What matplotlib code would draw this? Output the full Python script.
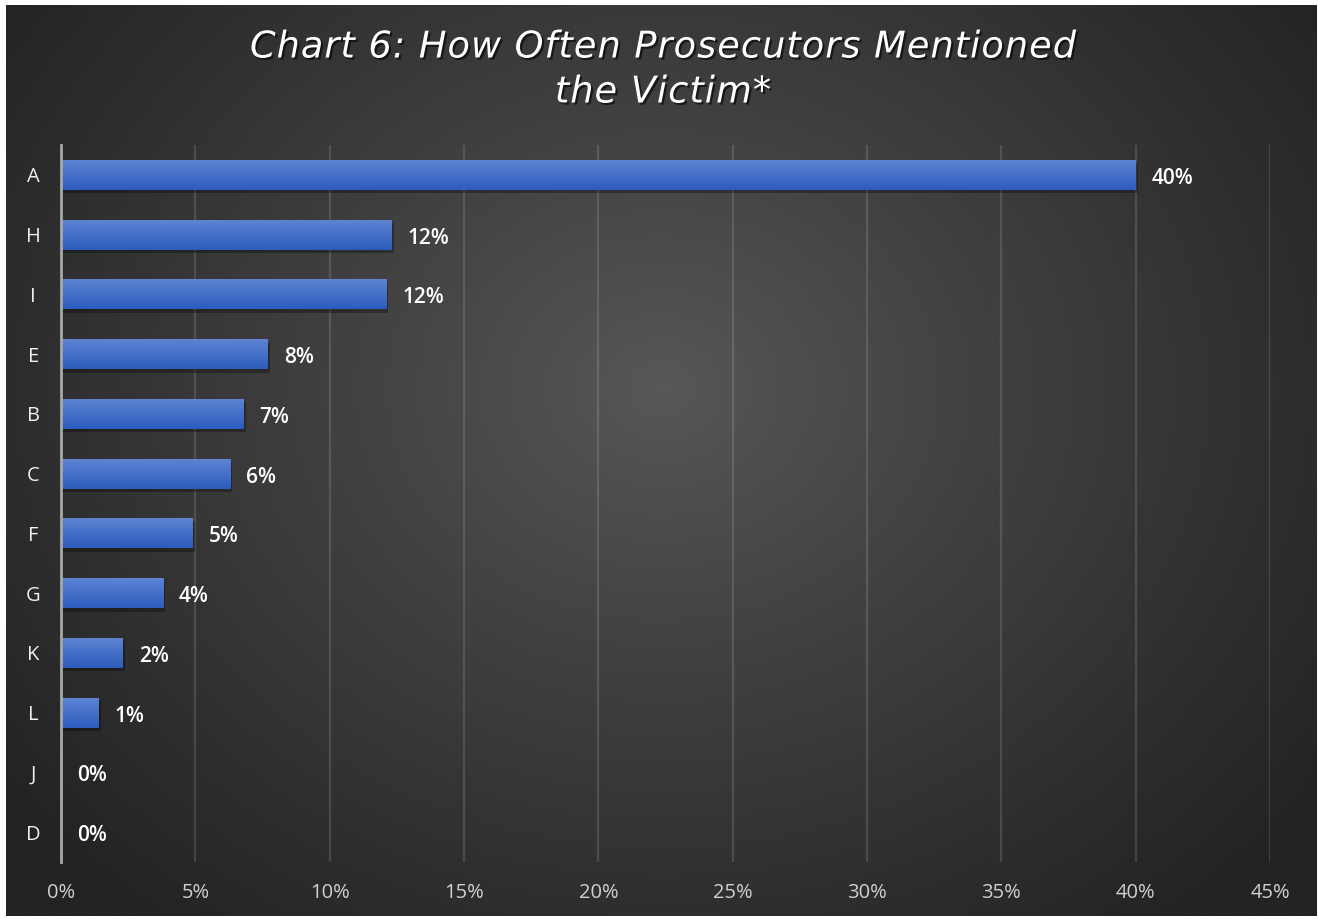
import numpy as np
import matplotlib
matplotlib.use("Agg")
import matplotlib.pyplot as plt
import matplotlib.patheffects as pe
from matplotlib.font_manager import FontProperties

categories = ["A", "H", "I", "E", "B", "C", "F", "G", "K", "L", "J", "D"]
values = [40.0, 12.3, 12.1, 7.7, 6.8, 6.3, 4.9, 3.8, 2.3, 1.4, 0.0, 0.0]
labels = ["40%", "12%", "12%", "8%", "7%", "6%", "5%", "4%", "2%", "1%", "0%", "0%"]
xticks = [0, 5, 10, 15, 20, 25, 30, 35, 40, 45]
xtick_labels = [f"{t}%" for t in xticks]
title_lines = ["Chart 6: How Often Prosecutors Mentioned", "the Victim*"]

plt.rcParams['font.family'] = ['Open Sans', 'DejaVu Sans']

W, H = 1318, 919
fig = plt.figure(figsize=(W / 100, H / 100), dpi=100, facecolor="white")

# background radial gradient
bg = fig.add_axes([6 / W, 3 / H, (1317 - 6) / W, (914 - 3) / H])
bg.set_axis_off()
ny, nx = 400, 600
yy, xx = np.mgrid[0:ny, 0:nx]
cx, cy = nx * 0.50, ny * 0.42
r = np.sqrt(((xx - cx) / (nx * 0.62)) ** 2 + ((yy - cy) / (ny * 0.75)) ** 2)
r = np.clip(r, 0, 1)
c0 = np.array([0x58, 0x58, 0x58]) / 255
c1 = np.array([0x23, 0x23, 0x23]) / 255
t = r ** 0.9
img = c0[None, None, :] * (1 - t[..., None]) + c1[None, None, :] * t[..., None]
bg.imshow(img, aspect="auto", extent=[0, 1, 0, 1], interpolation="bilinear")
bg.set_xlim(0, 1)
bg.set_ylim(0, 1)

ax = fig.add_axes([61 / W, 1 - 862 / H, (1270 - 61) / W, (862 - 145) / H])
ax.patch.set_alpha(0)
ypos = np.arange(len(categories))
bars = ax.barh(ypos, values, height=0.5, color="#4470c8", zorder=3,
               path_effects=[pe.SimplePatchShadow(offset=(1.5, -2.5), shadow_rgbFace="black", alpha=0.3),
                             pe.Normal()])
# gradient overlay on bars
grad = np.linspace(0, 1, 64)[:, None]
top = np.array([0x5e, 0x84, 0xd2]) / 255
bot = np.array([0x2c, 0x5c, 0xbd]) / 255
gimg = top[None, None, :] * (1 - grad[..., None]) + bot[None, None, :] * grad[..., None]
gimg = np.repeat(gimg, 2, axis=1)
for b, v, y in zip(bars, values, ypos):
    if v <= 0:
        continue
    im = ax.imshow(gimg, aspect="auto", extent=[0, v, y + 0.25, y - 0.25],
                   zorder=4, interpolation="bilinear")
    im.set_clip_path(b)

for v, y, lab in zip(values, ypos, labels):
    ax.annotate(lab, (v, y), xytext=(11.5, -2.5), textcoords="offset points",
                va="center", ha="left", color="white", fontsize=15,
                fontweight="semibold", zorder=5)

ax.set_xlim(0, 45)
ax.set_ylim(len(categories) - 0.5, -0.5)
ax.set_xticks(xticks)
ax.set_xticklabels(xtick_labels)
ax.set_yticks(ypos)
ax.set_yticklabels(categories)
ax.tick_params(axis="x", length=0, pad=15, labelsize=14.5, labelcolor="#d0d0d0")
ax.tick_params(axis="y", length=0, pad=20, labelsize=14.5, labelcolor="#f0f0f0")
for lbl in ax.get_yticklabels():
    lbl.set_horizontalalignment("center")
ax.grid(axis="x", color="white", alpha=0.13, linewidth=1.6, zorder=0)
ax.set_axisbelow(True)
for s in ["top", "right", "bottom"]:
    ax.spines[s].set_visible(False)
ax.spines["left"].set_color("#a8a8a8")
ax.spines["left"].set_linewidth(2)
ax.spines["left"].set_zorder(6)

# letter-spaced italic title
renderer = fig.canvas.get_renderer()
fp = FontProperties(family="DejaVu Sans", style="italic", size=26.5)
spacing = 1.0  # px
def text_w(s):
    if not s:
        return 0.0
    w1, _, _ = renderer.get_text_width_height_descent(s + "x", fp, ismath=False)
    w2, _, _ = renderer.get_text_width_height_descent("x", fp, ismath=False)
    return w1 - w2
shadow = [pe.withSimplePatchShadow(offset=(1.5, -1.5), shadow_rgbFace="black", alpha=0.6)]
for line, yc in zip(title_lines, [47, 92]):
    total = text_w(line) + spacing * (len(line) - 1)
    x0 = W / 2 + 4 - total / 2
    for i, ch in enumerate(line):
        if ch == " ":
            continue
        xp = x0 + text_w(line[:i]) + spacing * i
        fig.text(xp / W, 1 - yc / H, ch, ha="left", va="center", color="white",
                 fontproperties=fp, path_effects=shadow)

fig.savefig("out.png", dpi=100, facecolor="white")
